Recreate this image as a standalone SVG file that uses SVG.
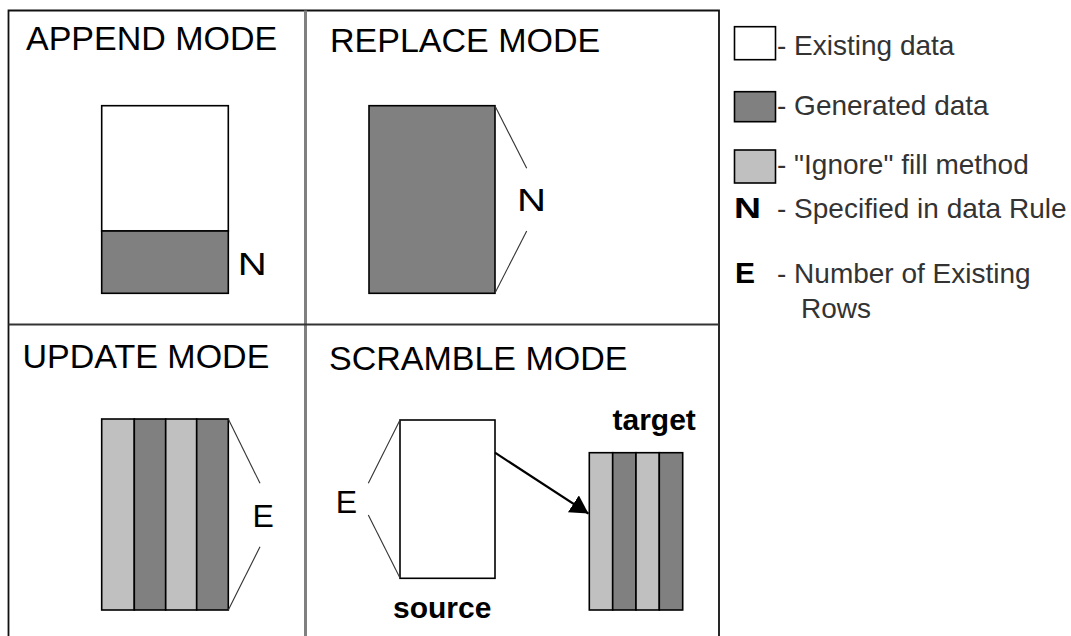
<svg xmlns="http://www.w3.org/2000/svg" width="1071" height="636" viewBox="0 0 1071 636">
<style>
.title{font-family:"Liberation Sans",Arial,sans-serif;font-size:34px;fill:#000}
.lbl{font-family:"Liberation Sans",Arial,sans-serif;font-size:32px;fill:#000}
.bold{font-family:"Liberation Sans",Arial,sans-serif;font-size:30px;font-weight:bold;fill:#000}
.leg{font-family:"Liberation Sans",Arial,sans-serif;font-size:28px;fill:#333}
.legk{font-family:"Liberation Sans",Arial,sans-serif;font-size:30px;font-weight:bold;fill:#000}
.box{stroke:#000;stroke-width:1.6}
.white{fill:#fff}
.dark{fill:#808080}
.light{fill:#c0c0c0}
.brace{stroke:#333;stroke-width:1.1;fill:none}
</style>
<defs>
<marker id="ah" markerUnits="userSpaceOnUse" markerWidth="20" markerHeight="22" refX="18" refY="10" orient="auto">
<path d="M0,0 L18,10 L0,20 z" fill="#000"/>
</marker>
</defs>
<rect width="1071" height="636" fill="#fff"/>

<g id="frame">
<path d="M8.5,640 V10.5 H719 V640" fill="none" stroke="#111" stroke-width="1.8"/>
<line x1="305.5" y1="10.5" x2="305.5" y2="640" stroke="#808080" stroke-width="3"/>
<line x1="8.5" y1="324.5" x2="719" y2="324.5" stroke="#333" stroke-width="2"/>
</g>

<g id="append">
<text class="title" x="26" y="50">APPEND MODE</text>
<rect class="box white" x="101.7" y="105.7" width="126.6" height="125.3"/>
<rect class="box dark" x="101.7" y="231" width="126.6" height="62.3"/>
<text class="lbl" x="237.7" y="275" textLength="29" lengthAdjust="spacingAndGlyphs">N</text>
</g>

<g id="replace">
<text class="title" x="330" y="52">REPLACE MODE</text>
<rect class="box dark" x="369" y="105.7" width="126" height="187.6"/>
<text class="lbl" x="517" y="211" textLength="29" lengthAdjust="spacingAndGlyphs">N</text>
</g>

<g id="update">
<text class="title" x="22.5" y="368">UPDATE MODE</text>
<rect class="box light" x="101.7" y="419" width="32.6" height="191"/>
<rect class="box dark" x="134.3" y="419" width="31.4" height="191"/>
<rect class="box light" x="165.7" y="419" width="31" height="191"/>
<rect class="box dark" x="196.7" y="419" width="31.6" height="191"/>
<text class="lbl" x="252.5" y="527">E</text>
</g>

<g id="scramble">
<text class="title" x="329" y="370">SCRAMBLE MODE</text>
<rect class="box white" x="400" y="420" width="95" height="158.3"/>
<text class="lbl" x="335.8" y="513">E</text>
<text class="bold" x="393" y="618">source</text>
<text class="bold" x="612.5" y="430">target</text>
<rect class="box light" x="589.3" y="452.7" width="23.4" height="157.3"/>
<rect class="box dark" x="612.7" y="452.7" width="23.3" height="157.3"/>
<rect class="box light" x="636" y="452.7" width="23.3" height="157.3"/>
<rect class="box dark" x="659.3" y="452.7" width="23.4" height="157.3"/>
</g>

<g id="connectors">
<line class="brace" x1="495" y1="106" x2="526.7" y2="168.3"/>
<line class="brace" x1="526.7" y1="231" x2="495" y2="293"/>
<line class="brace" x1="228.3" y1="419" x2="260" y2="483.3"/>
<line class="brace" x1="260" y1="546.7" x2="228.3" y2="610"/>
<line class="brace" x1="400" y1="420" x2="368.3" y2="483.3"/>
<line class="brace" x1="368.3" y1="515" x2="400" y2="578"/>
<line x1="495" y1="452.7" x2="588.5" y2="513.6" stroke="#000" stroke-width="2.2" marker-end="url(#ah)"/>
</g>

<g id="legend">
<rect class="box white" x="734.5" y="26.7" width="41" height="33"/>
<text class="leg" x="777" y="55">- Existing data</text>
<rect class="box dark" x="734.5" y="91.7" width="41" height="30"/>
<text class="leg" x="777" y="115">- Generated data</text>
<rect class="box light" x="734.5" y="150" width="41" height="33"/>
<text class="leg" x="777" y="174">- "Ignore" fill method</text>
<text class="legk" x="734" y="218" textLength="27" lengthAdjust="spacingAndGlyphs">N</text>
<text class="leg" x="777" y="218">- Specified in data Rule</text>
<text class="legk" x="735" y="283">E</text>
<text class="leg" x="777" y="283">- Number of Existing</text>
<text class="leg" x="801" y="318">Rows</text>
</g>
</svg>
